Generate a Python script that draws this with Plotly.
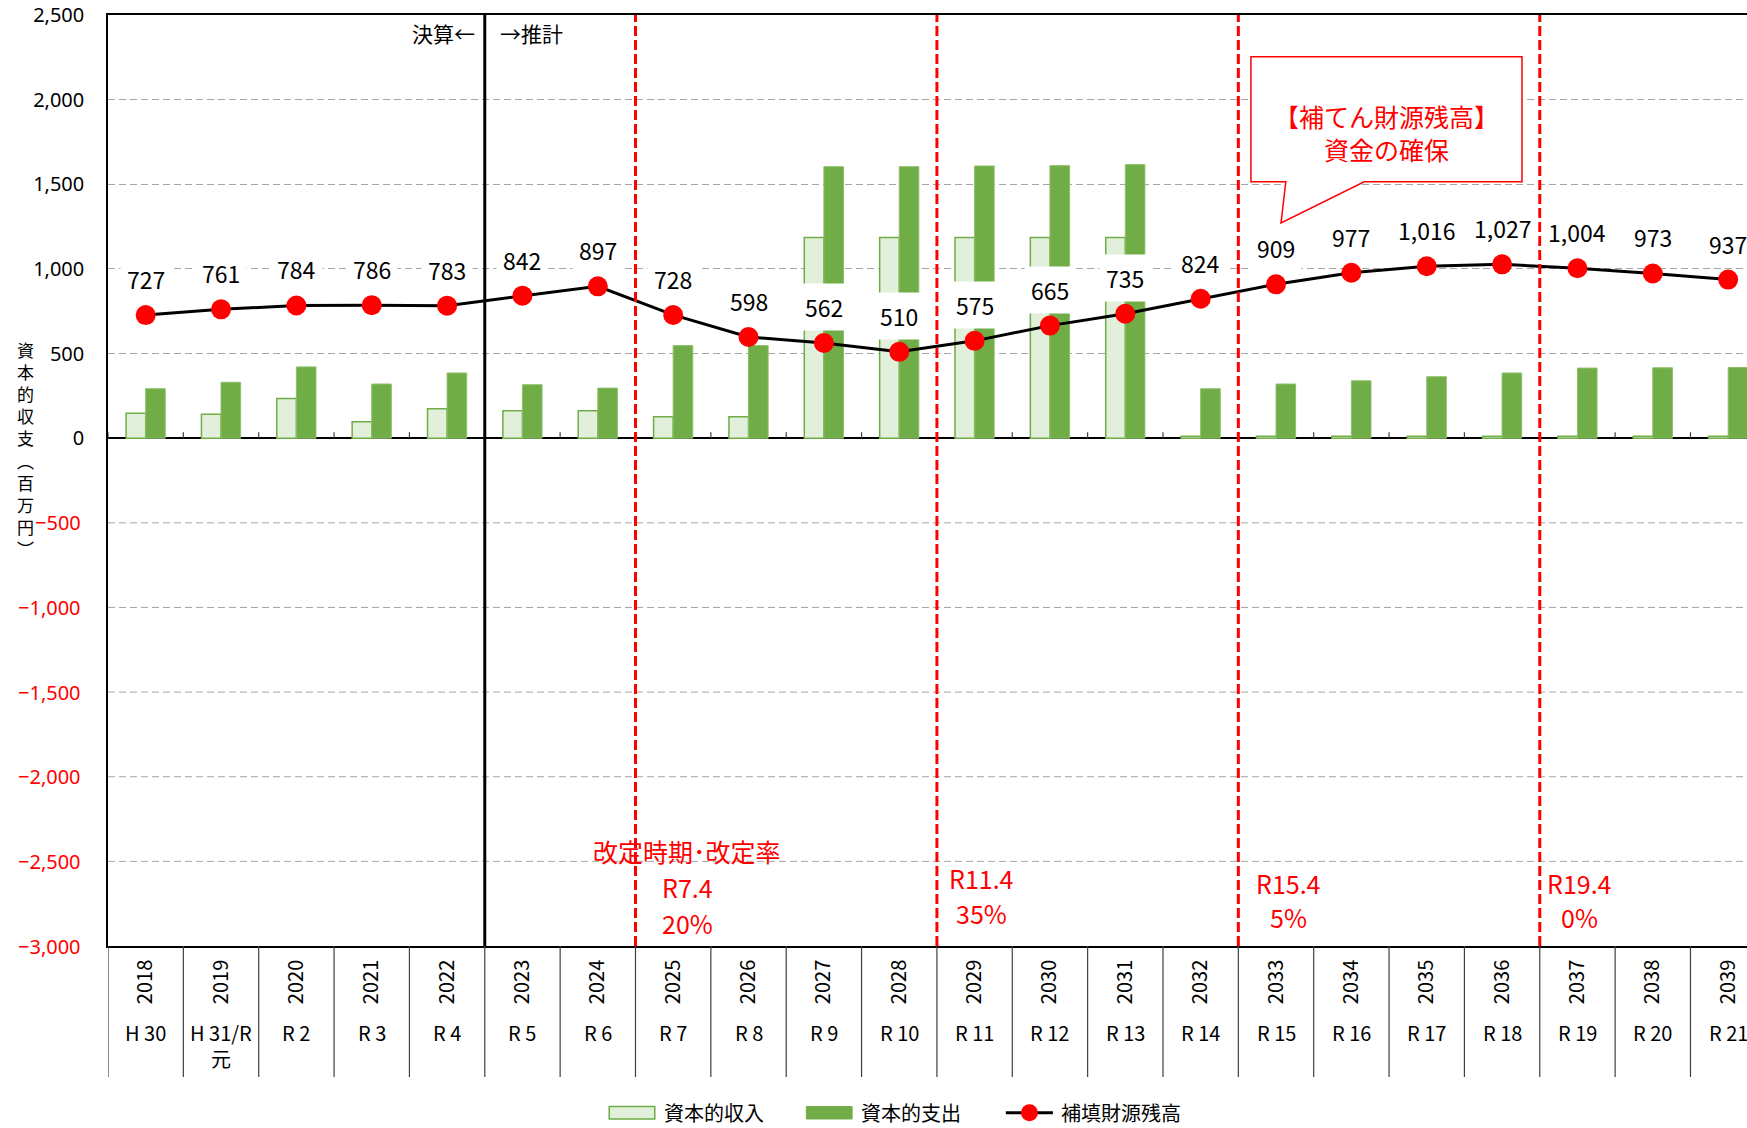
import plotly.graph_objects as go
import numpy as np

# ---------------- data ----------------
years = [str(y) for y in range(2018, 2040)]
eras = ["H 30", "H 31/R<br>元", "R 2", "R 3", "R 4", "R 5", "R 6", "R 7", "R 8", "R 9", "R 10",
        "R 11", "R 12", "R 13", "R 14", "R 15", "R 16", "R 17", "R 18", "R 19", "R 20", "R 21"]
income = [148, 142, 235, 97, 174, 162, 162, 126, 126, 1185, 1185, 1185, 1185, 1185,
          12, 12, 12, 12, 12, 12, 12, 12]
expenditure = [292, 330, 421, 320, 385, 316, 296, 547, 547, 1604, 1604, 1608, 1610, 1616,
               292, 320, 339, 363, 385, 414, 416, 418]
balance = [727, 761, 784, 786, 783, 842, 897, 728, 598, 562, 510, 575, 665, 735,
           824, 909, 977, 1016, 1027, 1004, 973, 937]

actual_last_year = "2022"
revision_after_years = ["2024", "2028", "2032", "2036"]
revision_dates = ["R7.4", "R11.4", "R15.4", "R19.4"]
revision_rates = ["20%", "35%", "5%", "0%"]

FONT = "Noto Sans CJK JP"
NUMFONT = "Noto Sans"
LIGHT = "#E2EFDA"
GREEN = "#70AD47"

xs = list(range(len(years)))
Y_MIN, Y_MAX = -3000, 2500
yticks = list(range(Y_MIN, Y_MAX + 1, 500))


def fmt(v):
    return f"{v:,}".replace("-", "\u2212")


fig = go.Figure()
fig.add_trace(go.Bar(x=xs, y=income, name="資本的収入",
                     marker=dict(color=LIGHT, line=dict(color=GREEN, width=1.5))))
fig.add_trace(go.Bar(x=xs, y=expenditure, name="資本的支出",
                     marker=dict(color=GREEN, line=dict(color="#8DBF6A", width=1))))
fig.add_trace(go.Scatter(x=xs, y=balance, name="補填財源残高", mode="lines+markers",
                         line=dict(color="black", width=3),
                         marker=dict(color="#FF0000", size=20)))

shapes = []
annotations = []

# category separators below plot and small ticks on the zero line
for i in range(len(years) + 1):
    b = i - 0.5
    shapes.append(dict(type="line", xref="x", yref="paper", x0=b, x1=b, y0=0, y1=-0.1407,
                       line=dict(color="#404040", width=1.2), layer="above"))
    shapes.append(dict(type="line", xref="x", yref="y", x0=b, x1=b, ysizemode="pixel",
                       yanchor=0, y0=0, y1=6, line=dict(color="#404040", width=1.2)))

# solid divider between actual and estimate
div_x = years.index(actual_last_year) + 0.5
shapes.append(dict(type="line", xref="x", yref="y", x0=div_x, x1=div_x, y0=Y_MIN, y1=Y_MAX,
                   line=dict(color="black", width=3), layer="above"))
annotations.append(dict(x=div_x, y=Y_MAX, xref="x", yref="y", text="決算←", showarrow=False,
                        xanchor="right", yanchor="middle", xshift=-8, yshift=-18,
                        font=dict(size=21, color="black", family=FONT)))
annotations.append(dict(x=div_x, y=Y_MAX, xref="x", yref="y", text="→推計", showarrow=False,
                        xanchor="left", yanchor="middle", xshift=13, yshift=-18,
                        font=dict(size=21, color="black", family=FONT)))

# revision dashed lines and labels
rev_offsets = [0.69, 0.59, 0.66, 0.53]
rev_y = [(-2652, -2862), (-2599, -2803), (-2625, -2829), (-2625, -2829)]
for k, yr in enumerate(revision_after_years):
    bx = years.index(yr) + 0.5
    shapes.append(dict(type="line", xref="x", yref="y", x0=bx, x1=bx, y0=Y_MIN, y1=Y_MAX,
                       line=dict(color="#FF0000", width=3, dash="10px,4px"), layer="above"))
    annotations.append(dict(x=bx + rev_offsets[k], y=rev_y[k][0], xref="x", yref="y",
                            text=revision_dates[k], showarrow=False,
                            font=dict(size=25, color="#FF0000", family=FONT)))
    annotations.append(dict(x=bx + rev_offsets[k], y=rev_y[k][1], xref="x", yref="y",
                            text=revision_rates[k], showarrow=False,
                            font=dict(size=25, color="#FF0000", family=FONT)))
annotations.append(dict(x=years.index(revision_after_years[0]) + 0.5 + rev_offsets[0], y=-2441,
                        xref="x", yref="y", text="改定時期･改定率", showarrow=False,
                        font=dict(size=25, color="#FF0000", family=FONT)))

# callout box
cx0, cx1, cy0, cy1 = 14.667, 18.264, 1515, 2254
tb1, tb2, tipx, tipy = 15.13, 16.17, 15.066, 1271
path = (f"M {cx0},{cy1} L {cx1},{cy1} L {cx1},{cy0} L {tb2},{cy0} "
        f"L {tipx},{tipy} L {tb1},{cy0} L {cx0},{cy0} Z")
shapes.append(dict(type="path", xref="x", yref="y", path=path, fillcolor="white",
                   line=dict(color="#FF0000", width=1.5), layer="above"))
annotations.append(dict(x=16.46, y=1805, xref="x", yref="y",
                        text="【補てん財源残高】<br>資金の確保", showarrow=False,
                        font=dict(size=25, color="#FF0000", family=FONT)))

# data labels of balance (white background)
for x, v in zip(xs, balance):
    annotations.append(dict(x=x, y=v, xref="x", yref="y", text=fmt(v), showarrow=False,
                            yanchor="middle", yshift=36, bgcolor="white", borderpad=6,
                            font=dict(size=23, color="black", family=FONT)))

# era labels under the year labels
for x, e in zip(xs, eras):
    annotations.append(dict(x=x, y=-0.0752, xref="x", yref="paper", text=e, showarrow=False,
                            yanchor="top", font=dict(size=20, color="black", family=FONT)))

# negative y tick labels in red
for v in yticks:
    if v < 0:
        annotations.append(dict(x=-0.0152, y=v, xref="paper", yref="y", text=fmt(v),
                                showarrow=False, xanchor="right", yanchor="middle",
                                font=dict(size=20, color="#FF0000", family=NUMFONT)))

# vertical y-axis title
annotations.append(dict(x=-0.0506, y=(946 - 448.5) / 931, xref="paper", yref="paper",
                        text="<br>".join(list("資本的収支︵百万円︶")),
                        showarrow=False, xanchor="center", yanchor="middle",
                        font=dict(size=17, color="black", family=FONT)))

# custom legend
ly0, ly1, lyc = -0.1725, -0.1858, -0.1790
shapes.append(dict(type="rect", xref="paper", yref="paper", x0=0.3058, x1=0.3336, y0=ly1, y1=ly0,
                   fillcolor=LIGHT, line=dict(color=GREEN, width=1.5)))
shapes.append(dict(type="rect", xref="paper", yref="paper", x0=0.4261, x1=0.4540, y0=ly1, y1=ly0,
                   fillcolor=GREEN, line=dict(color=GREEN, width=1)))
shapes.append(dict(type="line", xref="paper", yref="paper", x0=0.5478, x1=0.5765, y0=lyc, y1=lyc,
                   line=dict(color="black", width=3)))
shapes.append(dict(type="circle", xref="paper", yref="paper", xsizemode="pixel", ysizemode="pixel",
                   xanchor=0.5622, yanchor=lyc, x0=-8.5, x1=8.5, y0=-8.5, y1=8.5,
                   fillcolor="#FF0000", line=dict(color="#FF0000", width=0)))
for lx, name in [(0.3378, "資本的収入"), (0.4581, "資本的支出"), (0.5805, "補填財源残高")]:
    annotations.append(dict(x=lx, y=lyc, xref="paper", yref="paper", text=name, showarrow=False,
                            xanchor="left", yanchor="middle",
                            font=dict(size=20, color="black", family=FONT)))

fig.update_layout(
    width=1747, height=1128,
    margin=dict(l=108, r=0, t=15, b=182),
    paper_bgcolor="white", plot_bgcolor="white",
    showlegend=False,
    barmode="group", bargap=0.48, bargroupgap=0,
    font=dict(family=FONT, size=20, color="black"),
    xaxis=dict(range=[-0.5, 21.25], tickvals=xs, ticktext=years, tickangle=-90,
               tickfont=dict(size=20, color="black", family=FONT), ticks="",
               ticklabelstandoff=4, showline=True, linecolor="black", linewidth=1.5,
               mirror=True, showgrid=False, zeroline=False),
    yaxis=dict(range=[Y_MIN, Y_MAX + 0.01], tickvals=[v for v in yticks if v >= 0],
               ticktext=[fmt(v) for v in yticks if v >= 0],
               tickfont=dict(size=20, color="black", family=NUMFONT), ticks="",
               ticklabelstandoff=18, ticklabeloverflow="allow",
               showgrid=True, gridcolor="#A6A6A6", gridwidth=1, griddash="7px,4px",
               zeroline=True, zerolinecolor="black", zerolinewidth=1.5,
               showline=True, linecolor="black", linewidth=1.5),
    shapes=shapes,
    annotations=annotations,
)

# gridlines for negative values (axis ticks only carry the positive labels)
for v in yticks:
    if Y_MIN < v < 0:
        fig.add_shape(type="line", xref="paper", yref="y", x0=0, x1=1, y0=v, y1=v,
                      line=dict(color="#A6A6A6", width=1, dash="7px,4px"), layer="below")

fig.write_html("out.html")
